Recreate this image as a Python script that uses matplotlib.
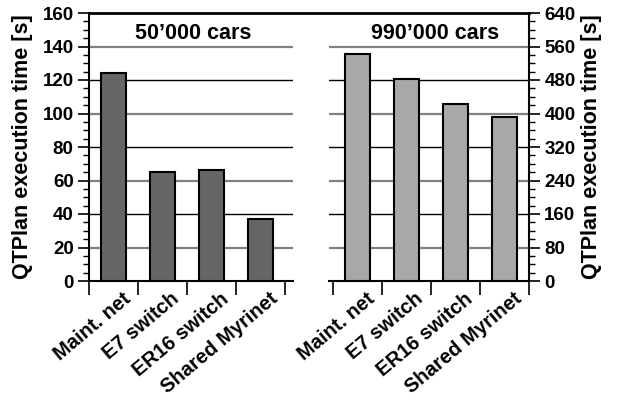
import matplotlib
matplotlib.use('Agg')
import matplotlib.pyplot as plt
from matplotlib.lines import Line2D
from matplotlib.ticker import MultipleLocator
import matplotlib.transforms as mtransforms

plt.rcParams['font.family'] = ['Liberation Sans', 'DejaVu Sans']
plt.rcParams['font.weight'] = 'bold'

categories = ["Maint. net", "E7 switch", "ER16 switch", "Shared Myrinet"]
times_50k = [124, 65, 66, 37]
times_990k = [543, 482, 423, 391]
titles = ["50\u2019000 cars", "990\u2019000 cars"]
ylabel = "QTPlan execution time [s]"

W, H = 619, 400
fig = plt.figure(figsize=(W / 100, H / 100), dpi=100)

def fx(px):
    return px / W

def fy(py):
    return 1 - py / H

ax1 = fig.add_axes([fx(89), fy(281), fx(293 - 89), (281 - 13) / H])
ax2 = fig.add_axes([fx(329), fy(281), fx(529 - 329), (281 - 13) / H])

panels = [
    (ax1, times_50k, '#666666', 160, 40, 5, (-0.5, 3.663), titles[0], 0.51),
    (ax2, times_990k, '#a8a8a8', 640, 160, 20, (-0.58, 3.5), titles[1], 0.53),
]

for ax, vals, col, ymax, step, minor, xl, title, tx in panels:
    x = list(range(len(categories)))
    ax.bar(x, vals, width=0.51, color=col, edgecolor='black', linewidth=1.5, zorder=3)
    ax.set_xlim(*xl)
    ax.set_ylim(0, ymax)
    half = step / 2
    v = half
    while v < ymax - 1e-9:
        k = round(v / half)
        c = 'black' if k % 2 == 0 else '#808080'
        ax.axhline(v, color=c, linewidth=1.0 if c == 'black' else 1.6, zorder=1)
        v += half
    ax.yaxis.set_major_locator(MultipleLocator(half))
    ax.yaxis.set_minor_locator(MultipleLocator(minor))
    ax.set_xticks([i - 0.5 for i in range(len(categories) + 1)])
    ax.set_xticklabels([])
    ax.set_xticks(x, minor=True)
    ax.set_xticklabels(categories, minor=True, rotation=40, ha='right', va='top',
                       rotation_mode='anchor', fontsize=14.5, fontweight='bold')
    ax.tick_params(axis='x', which='major', length=10, width=1.2, direction='out')
    ax.tick_params(axis='x', which='minor', length=0, pad=6)
    ax.tick_params(axis='y', which='major', length=8, width=1.2, labelsize=13.5, pad=3)
    ax.tick_params(axis='y', which='minor', length=4, width=1.0)
    for s in ax.spines.values():
        s.set_linewidth(1.5)
    ax.spines['top'].set_visible(False)
    ax.text(tx, 0.925, title, transform=ax.transAxes, ha='center', va='center',
            fontsize=15.5, fontweight='bold')
    for lab in ax.get_yticklabels():
        lab.set_fontweight('bold')
    off = mtransforms.ScaledTranslation(6 / 72, 0, fig.dpi_scale_trans)
    for lab in ax.get_xticklabels(minor=True):
        lab.set_transform(lab.get_transform() + off)

ax1.spines['right'].set_visible(False)
ax2.spines['left'].set_visible(False)
ax2.yaxis.tick_right()
ax2.yaxis.set_label_position('right')
ax1.set_ylabel(ylabel, fontsize=15.5, fontweight='bold', labelpad=7)
ax2.set_ylabel(ylabel, fontsize=15.5, fontweight='bold', labelpad=4)

fig.add_artist(Line2D([fx(89), fx(529)], [fy(13), fy(13)], transform=fig.transFigure,
                      color='black', linewidth=2.0))

fig.savefig('out.png', dpi=100)
